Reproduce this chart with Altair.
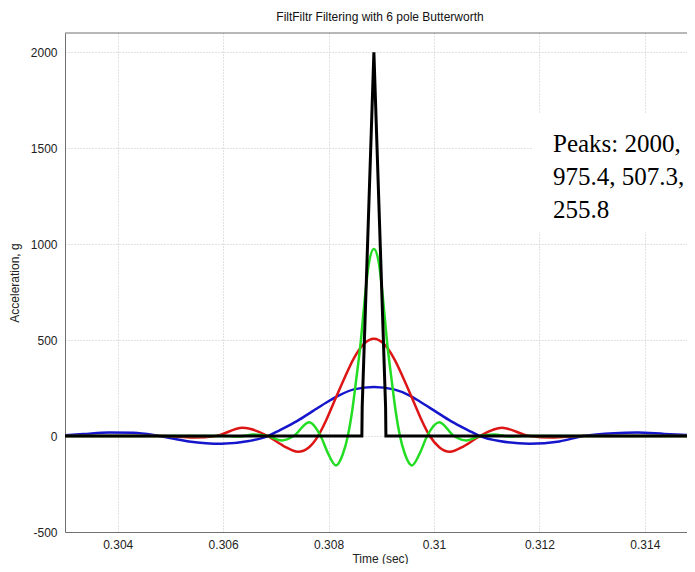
import altair as alt
import pandas as pd

# ---- data ----
black_t = [0.30300, 0.308632, 0.308638, 0.308860, 0.309082, 0.309088, 0.31500]
black_v = [0, 0, 150, 2000, 150, 0, 0]

green_t = [0.30300, 0.30601, 0.30630, 0.30658, 0.30685, 0.30711, 0.30734, 0.30763,
           0.30785, 0.30799, 0.30814, 0.30827, 0.308366, 0.308442, 0.308518, 0.308613,
           0.308689, 0.308765, 0.308860, 0.308955, 0.309031, 0.309107, 0.309202,
           0.309278, 0.309354, 0.30945, 0.30958, 0.30973, 0.30987, 0.31010, 0.31038,
           0.31061, 0.31087, 0.31114, 0.31143, 0.31171, 0.31500]
green_v = [0, 0, -3, 8, 0, -23, 0, 72,
           0, -90, -153, -95, 0, 120, 280, 497,
           720, 900, 975, 900, 720, 497, 280,
           120, 0, -95, -153, -90, 0, 72, 0,
           -23, 0, 8, -3, 0, 0]

red_t = [0.30300, 0.30487, 0.30544, 0.30586, 0.30637, 0.30685, 0.30715, 0.30742,
         0.30763, 0.30780, 0.30795, 0.30810, 0.30829, 0.30848, 0.30867, 0.30886,
         0.30905, 0.30924, 0.30943, 0.30962, 0.30977, 0.30992, 0.31010, 0.31030,
         0.31057, 0.31087, 0.31129, 0.31181, 0.31224, 0.31281, 0.31500]
red_v = [0, 0, -8, 0, 43, 0, -52, -82,
         -58, 0, 80, 175, 295, 405, 480, 507,
         480, 405, 295, 175, 80, 0, -58, -82,
         -52, 0, 43, 0, -8, 0, 0]

blue_t = [0.30300, 0.30335, 0.30383, 0.30430, 0.30479, 0.30535, 0.30597, 0.30649,
          0.30685, 0.30707, 0.30740, 0.30770, 0.30799, 0.30820, 0.30848, 0.30886,
          0.30924, 0.30953, 0.30973, 0.31002, 0.31032, 0.31065, 0.31087, 0.31124,
          0.31181, 0.31238, 0.31283, 0.31342, 0.31386, 0.31437, 0.31500]
blue_v = [4, 10, 18, 17, 0, -28, -40, -26,
          0, 30, 78, 130, 180, 212, 243, 256,
          243, 212, 180, 130, 78, 30, 0, -26,
          -40, -28, 0, 15, 18, 11, 3]

x_ticks = [0.304, 0.306, 0.308, 0.310, 0.312, 0.314]
y_ticks = [-500, 0, 500, 1000, 1500, 2000]
note_lines = ["Peaks: 2000,", "975.4, 507.3,", "255.8"]

FONT = "Liberation Sans"
W, H = 622, 499

x_enc = alt.X("t:Q", scale=alt.Scale(domain=[0.303, 0.3148], nice=False, zero=False),
              axis=alt.Axis(values=x_ticks, labelExpr="toString(datum.value)",
                            title="Time (sec)", titleX=315, titleY=26,
                            titleBaseline="middle"))
y_enc = alt.Y("v:Q", scale=alt.Scale(domain=[-500, 2100], nice=False, zero=False),
              axis=alt.Axis(values=y_ticks, labelExpr="toString(datum.value)",
                            title="Acceleration, g", titleX=-51, titleY=249.5,
                            titleBaseline="middle"))


def series(ts, vs, color, interp, sw=2.5):
    df = pd.DataFrame({"t": ts, "v": vs})
    return alt.Chart(df).mark_line(color=color, strokeWidth=sw, interpolate=interp,
                                   clip=True).encode(x=x_enc, y=y_enc)


blue = series(blue_t, blue_v, "#1515cc", "monotone")
red = series(red_t, red_v, "#dd1515", "monotone")
green = series(green_t, green_v, "#22dd22", "monotone")
black = series(black_t, black_v, "#000000", "linear", 3)

one = pd.DataFrame({"a": [0]})
box = alt.Chart(one).mark_rect(color="white").encode(
    x=alt.value(467), x2=alt.value(W), y=alt.value(80), y2=alt.value(199))

top_border = alt.Chart(one).mark_rule(color="#707070", strokeWidth=1).encode(
    x=alt.value(0), x2=alt.value(W), y=alt.value(0))

note = alt.Chart(pd.DataFrame({"txt": ["\n".join(note_lines)]})).mark_text(
    align="left", baseline="top", font="Liberation Serif", fontSize=25,
    lineHeight=33, lineBreak="\n", color="black").encode(
    x=alt.value(488), y=alt.value(99), text="txt:N")

chart = alt.layer(blue, red, green, black, box, note, top_border).properties(
    width=W, height=H,
    padding={"left": 57, "top": 25, "right": 0, "bottom": 32},
    autosize=alt.AutoSizeParams(type="none"),
    title=alt.TitleParams("FiltFiltr Filtering with 6 pole Butterworth", font=FONT,
                          fontSize=12, fontWeight="normal", color="#111",
                          anchor="middle", offset=9, dx=4),
).configure_view(stroke=None).configure_axis(
    labelFont=FONT, labelFontSize=12, labelColor="#222", titleFont=FONT,
    titleFontSize=12, titleFontWeight="normal", titleColor="#222",
    grid=True, gridColor="#c4c4c4", gridDash=[1, 2], gridWidth=1,
    ticks=False, tickSize=0, domain=True, domainColor="#707070", domainWidth=1,
).configure_axisX(labelPadding=7).configure_axisY(labelPadding=8)

chart.save("out.html", embed_options={"renderer": "svg", "actions": False})
